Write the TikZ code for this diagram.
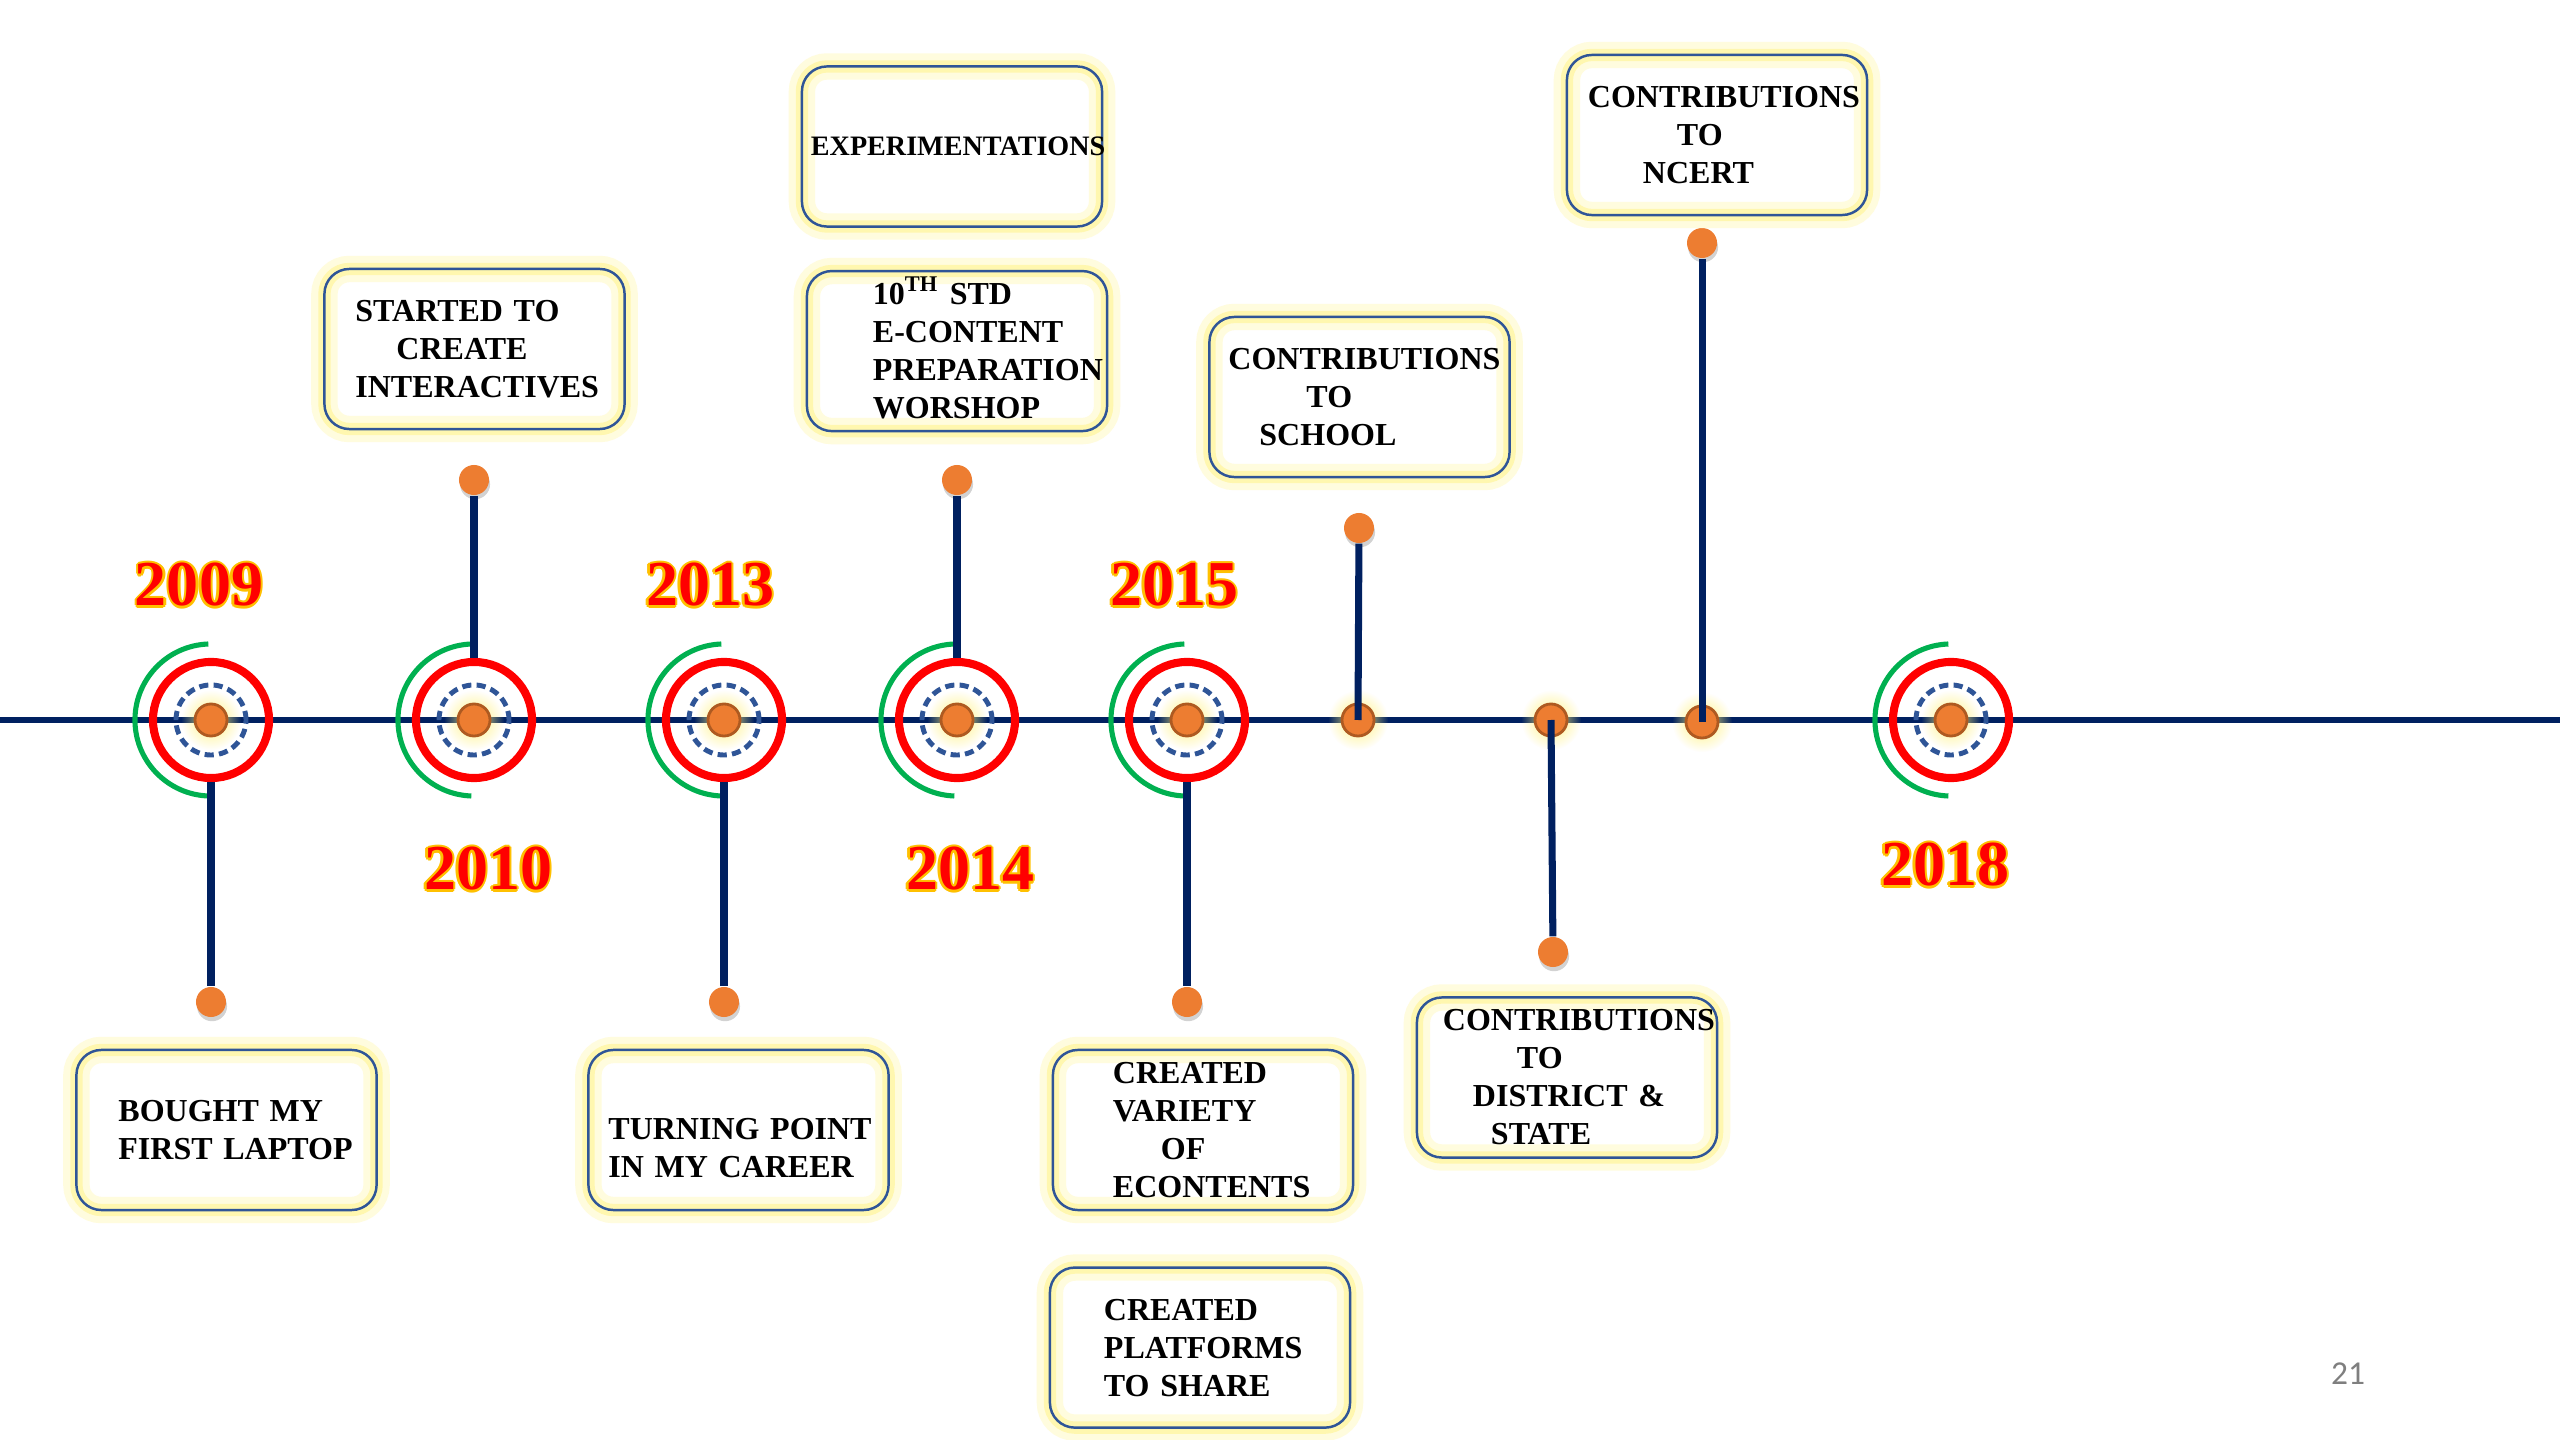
\documentclass[tikz,border=0pt]{standalone}
\usepackage{fontspec}
\setmainfont{Liberation Serif}
\newfontfamily\slidefont{Carlito}
\usepackage{tikz}
\usetikzlibrary{positioning, shadows, fadings}

\definecolor{linenavy}{HTML}{002060}
\definecolor{boxblue}{HTML}{2F5597}
\definecolor{dotorange}{HTML}{ED7D31}
\definecolor{dotbrown}{HTML}{AE5A21}
\definecolor{ringgreen}{HTML}{00B050}
\definecolor{glowyellow}{HTML}{FFF27A}
\definecolor{yeargold}{HTML}{FFC000}
\definecolor{pagegray}{HTML}{7F7F7F}

% red year with a gold rim
\newcommand{\yrtext}[1]{%
  \makebox[0pt][l]{\color{yeargold}%
    \makebox[0pt][l]{\hspace*{0.7pt}#1}%
    \makebox[0pt][l]{\hspace*{-0.7pt}#1}%
    \makebox[0pt][l]{\raisebox{0.7pt}{#1}}%
    \makebox[0pt][l]{\raisebox{-0.7pt}{#1}}%
    \makebox[0pt][l]{\hspace*{0.5pt}\raisebox{0.5pt}{#1}}%
    \makebox[0pt][l]{\hspace*{-0.5pt}\raisebox{0.5pt}{#1}}%
    \makebox[0pt][l]{\hspace*{0.5pt}\raisebox{-0.5pt}{#1}}%
    \makebox[0pt][l]{\hspace*{-0.5pt}\raisebox{-0.5pt}{#1}}%
  }\textcolor{red}{#1}}

\tikzfading[name=glowfade, inner color=transparent!0, outer color=transparent!100]

\tikzset{
  event/.style={rectangle, rounded corners=0.25cm, draw=boxblue, line width=0.7pt,
    minimum width=3cm, minimum height=1.6cm, inner ysep=0pt, align=left,
    font={\bfseries\fontsize{9.1}{10.8}\selectfont\hyphenpenalty=10000},
    preaction={draw=glowyellow!25, line width=7.5pt},
    preaction={draw=glowyellow!60, line width=3.5pt}},
  ring/.style={circle, draw=red, line width=2.3pt, minimum size=1.16cm, inner sep=0pt},
  halfring/.style={draw=ringgreen, line width=1.45pt},
  dashring/.style={draw=boxblue, line width=1.4pt, dash pattern=on 2.6pt off 1.5pt},
  mdot/.style={circle, fill=dotorange, draw=dotbrown, line width=0.8pt, minimum size=0.32cm, inner sep=0pt},
  enddot/.style={circle, fill=dotorange, minimum size=0.30cm, inner sep=0pt,
    drop shadow={shadow xshift=0.3pt, shadow yshift=-1.2pt, opacity=0.35}},
  stem/.style={draw=linenavy, line width=2pt},
  year/.style={font=\bfseries\fontsize{18.2}{20}\selectfont, inner sep=0pt},
}

\begin{document}
\begin{tikzpicture}[x=0.01cm, y=-0.01cm]
\useasboundingbox[fill=white] (0,0) rectangle (2560,1440);

% timeline
\coordinate (tl-start) at (0,720);
\coordinate (tl-end) at (2560,720);
\draw[stem, line width=1.9pt] (tl-start) -- (tl-end);

% year targets
\foreach \x/\yr in {211/2009, 474/2010, 724/2013, 957/2014, 1187/2015, 1951/2018} {
  \node[ring] (r\yr) at (\x,720) {};
  \draw[halfring] (r\yr.center) ++(92:0.76cm) arc[start angle=92, end angle=268, radius=0.76cm];
  \draw[dashring] (r\yr.center) circle[radius=0.35cm];
  \fill[glowyellow, path fading=glowfade] (r\yr.center) circle[radius=0.3cm];
  \node[mdot] (c\yr) at (r\yr.center) {};
}

% stems from the targets
\foreach \yr/\ey in {2009/1002, 2010/480, 2013/1002, 2014/480, 2015/1002} {
  \node[enddot] (e\yr) at (r\yr.center |- 0,\ey) {};
  \draw[stem] (r\yr) -- (e\yr);
}

% plain dots on the line
\foreach \n/\x/\y in {school/1358/720, district/1551/720, ncert/1702/722} {
  \fill[glowyellow, path fading=glowfade] (\x,\y) circle[radius=0.3cm];
  \node[mdot] (d-\n) at (\x,\y) {};
}
\node[enddot] (s-school) at (1359,528) {};
\node[enddot] (s-district) at (1553,952) {};
\node[enddot] (s-ncert) at (1702,243) {};
\draw[stem] (d-school.center) -- (s-school);
\draw[stem] (d-district.center) -- (s-district);
\draw[stem] (d-ncert.center) -- (s-ncert);

% years
\node[year] (y2009) at (199,585) {\yrtext{2009}};
\node[year] (y2010) at (488,869) {\yrtext{2010}};
\node[year] (y2013) at (710,585) {\yrtext{2013}};
\node[year] (y2014) at (970,869) {\yrtext{2014}};
\node[year] (y2015) at (1174,585) {\yrtext{2015}};
\node[year] (y2018) at (1945,865) {\yrtext{2018}};

% event boxes
\node[event, inner xsep=0.42cm, text width=2.16cm] (laptop) at (226.5,1130) {BOUGHT~MY\\FIRST~LAPTOP};
\node[event, inner xsep=0.31cm, text width=2.38cm] (interactives) at (474.5,349) {STARTED~TO\\\hspace*{0.41cm}CREATE\\INTERACTIVES};
\node[event, inner xsep=0.20cm, text width=2.60cm] (career) at (738.5,1130) {\rule{0pt}{16.5pt}TURNING~POINT\\IN~MY~CAREER};
\node[event, inner xsep=0.09cm, text width=2.82cm, font={\bfseries\fontsize{8}{9.6}\selectfont\hyphenpenalty=10000}] (experiment) at (952,146.5) {EXPERIMENTATIONS};
\node[event, inner xsep=0.66cm, text width=1.68cm, below=0.42cm of experiment, xshift=0.05cm] (workshop) {10\smash{\textsuperscript{TH}}~STD\\\mbox{E-CONTENT}\\PREPARATION\\WORSHOP};
\node[event, inner xsep=0.19cm, text width=2.62cm] (school) at (1359.5,397) {CONTRIBUTIONS\\\hspace*{0.78cm}TO\\\hspace*{0.31cm}SCHOOL};
\node[event, inner xsep=0.60cm, text width=1.80cm] (econtents) at (1203,1130) {CREATED\\VARIETY\\\hspace*{0.48cm}OF\\ECONTENTS};
\node[event, inner xsep=0.54cm, text width=1.92cm, below=0.55cm of econtents, xshift=-0.03cm] (platforms) {CREATED\\PLATFORMS\\TO~SHARE};
\node[event, inner xsep=0.21cm, text width=2.58cm] (ncert) at (1717,135) {CONTRIBUTIONS\\\hspace*{0.89cm}TO\\\hspace*{0.55cm}NCERT};
\node[event, inner xsep=0.26cm, text width=2.48cm] (district) at (1567,1077.5) {CONTRIBUTIONS\\\hspace*{0.74cm}TO\\\hspace*{0.30cm}DISTRICT~\&\\\hspace*{0.48cm}STATE};

% slide number
\node[font=\slidefont\fontsize{9.5}{10}\selectfont, text=pagegray, inner sep=0pt] (pagenum) at (2348,1374) {21};
\end{tikzpicture}
\end{document}
